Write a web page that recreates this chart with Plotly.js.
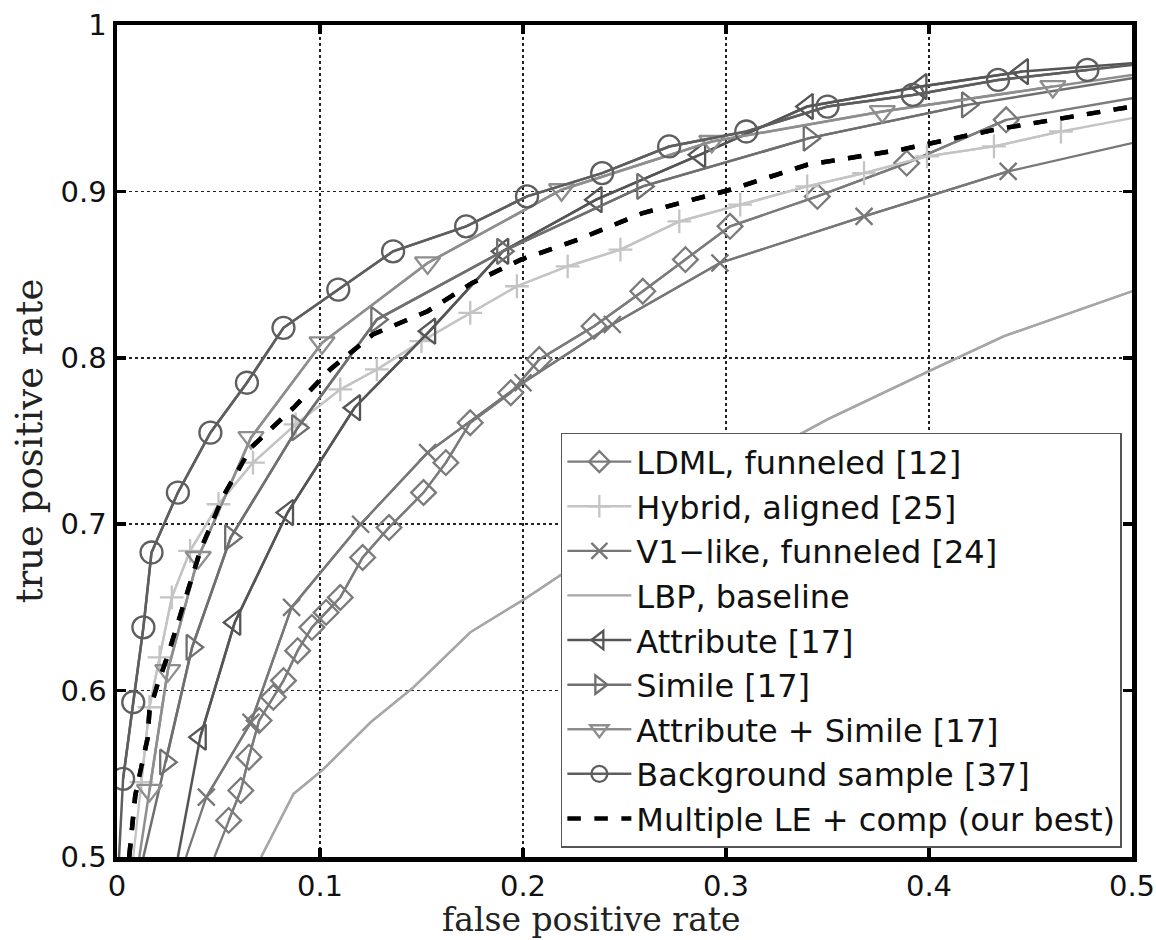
<!DOCTYPE html>
<html>
<head>
<meta charset="utf-8">
<script src="https://cdn.plot.ly/plotly-3.0.1.min.js"></script>
<style>html,body{margin:0;padding:0;background:#fff;}#chart{width:1156px;height:940px;}</style>
</head>
<body>
<div id="chart"></div>
<script>
// ---- data ----
var seriesNames = [
  "LDML, funneled [12]",
  "Hybrid, aligned [25]",
  "V1\u2212like, funneled [24]",
  "LBP, baseline",
  "Attribute [17]",
  "Simile [17]",
  "Attribute + Simile [17]",
  "Background sample [37]",
  "Multiple LE + comp (our best)"
];

var ldmlX = [0.048, 0.055, 0.061, 0.065, 0.070, 0.077, 0.082, 0.089, 0.096, 0.103, 0.110, 0.121, 0.134, 0.151, 0.162, 0.174, 0.194, 0.208, 0.235, 0.259, 0.280, 0.302, 0.345, 0.389, 0.438, 0.5];
var ldmlY = [0.500, 0.522, 0.540, 0.560, 0.582, 0.596, 0.606, 0.624, 0.638, 0.647, 0.656, 0.680, 0.698, 0.719, 0.737, 0.761, 0.779, 0.799, 0.819, 0.840, 0.859, 0.879, 0.897, 0.917, 0.943, 0.956];

var hybridX = [0.008, 0.012, 0.016, 0.021, 0.027, 0.036, 0.050, 0.067, 0.088, 0.110, 0.128, 0.150, 0.174, 0.197, 0.222, 0.248, 0.277, 0.307, 0.340, 0.368, 0.399, 0.432, 0.465, 0.5];
var hybridY = [0.500, 0.545, 0.590, 0.620, 0.656, 0.684, 0.712, 0.737, 0.760, 0.781, 0.793, 0.810, 0.827, 0.843, 0.855, 0.865, 0.882, 0.892, 0.903, 0.911, 0.921, 0.927, 0.936, 0.944];

var v1X = [0.034, 0.044, 0.066, 0.086, 0.120, 0.153, 0.200, 0.244, 0.297, 0.368, 0.439, 0.5];
var v1Y = [0.500, 0.536, 0.581, 0.650, 0.700, 0.743, 0.785, 0.820, 0.857, 0.885, 0.912, 0.929];

var lbpX = [0.071, 0.087, 0.101, 0.125, 0.146, 0.174, 0.202, 0.25, 0.30, 0.35, 0.40, 0.437, 0.5];
var lbpY = [0.500, 0.538, 0.552, 0.581, 0.602, 0.635, 0.656, 0.695, 0.730, 0.763, 0.792, 0.813, 0.840];

var attrX = [0.030, 0.041, 0.058, 0.084, 0.117, 0.154, 0.190, 0.236, 0.287, 0.340, 0.396, 0.446, 0.5];
var attrY = [0.500, 0.572, 0.641, 0.707, 0.770, 0.816, 0.864, 0.895, 0.922, 0.951, 0.963, 0.972, 0.977];

var simileX = [0.013, 0.024, 0.037, 0.056, 0.089, 0.128, 0.190, 0.259, 0.341, 0.419, 0.5];
var simileY = [0.500, 0.557, 0.626, 0.692, 0.758, 0.823, 0.864, 0.903, 0.932, 0.952, 0.968];

var attrSimX = [0.011, 0.016, 0.025, 0.040, 0.066, 0.101, 0.153, 0.219, 0.293, 0.377, 0.461, 0.5];
var attrSimY = [0.500, 0.540, 0.612, 0.680, 0.752, 0.809, 0.857, 0.901, 0.930, 0.948, 0.963, 0.970];

var bgX = [0.001, 0.003, 0.008, 0.013, 0.017, 0.030, 0.046, 0.064, 0.082, 0.109, 0.136, 0.172, 0.202, 0.239, 0.272, 0.310, 0.350, 0.392, 0.434, 0.478, 0.5];
var bgY = [0.500, 0.547, 0.593, 0.638, 0.683, 0.719, 0.755, 0.785, 0.818, 0.841, 0.864, 0.879, 0.897, 0.911, 0.927, 0.936, 0.951, 0.958, 0.967, 0.973, 0.976];

var mleX = [0.006, 0.009, 0.012, 0.015, 0.016, 0.020, 0.025, 0.030, 0.041, 0.052, 0.066, 0.087, 0.105, 0.126, 0.153, 0.175, 0.199, 0.227, 0.259, 0.302, 0.340, 0.386, 0.432, 0.5];
var mleY = [0.500, 0.537, 0.554, 0.571, 0.588, 0.604, 0.621, 0.640, 0.684, 0.716, 0.746, 0.770, 0.793, 0.814, 0.828, 0.845, 0.859, 0.871, 0.887, 0.901, 0.916, 0.925, 0.937, 0.951];

var xTickVals = [0, 0.1, 0.2, 0.3, 0.4, 0.5];
var xTickText = ["0", "0.1", "0.2", "0.3", "0.4", "0.5"];
var yTickVals = [0.5, 0.6, 0.7, 0.8, 0.9, 1];
var yTickText = ["0.5", "0.6", "0.7", "0.8", "0.9", "1"];

// ---- traces ----
var lineTraces = [];
var legendTraces = [];
function addSeries(name, x, y, color, symbol, size, width, dash) {
  // full curve (edge to edge), no legend entry
  lineTraces.push({
    type: "scatter", x: x, y: y, mode: "lines", showlegend: false,
    line: {color: color, width: width, dash: dash || "solid"}, hoverinfo: "skip"
  });
  // interior points carry the markers (the curves are clipped at the frame)
  var xi = [], yi = [];
  for (var i = 0; i < x.length; i++) {
    if (!symbol || (x[i] < 0.5 && y[i] > 0.5)) { xi.push(x[i]); yi.push(y[i]); }
  }
  var t = {
    type: "scatter", name: name, x: xi, y: yi,
    mode: symbol ? "lines+markers" : "lines",
    line: {color: color, width: width, dash: dash || "solid"}
  };
  if (symbol) t.marker = {symbol: symbol, size: size, color: color, line: {color: color, width: 2.3}};
  legendTraces.push(t);
}

addSeries(seriesNames[0], ldmlX, ldmlY, "#7b7b7b", "diamond-open", 19, 2.3);
addSeries(seriesNames[1], hybridX, hybridY, "#c4c4c4", "cross-thin-open", 17, 2.3);
addSeries(seriesNames[2], v1X, v1Y, "#777777", "x-thin-open", 17, 2.3);
addSeries(seriesNames[3], lbpX, lbpY, "#a6a6a6", null, 0, 2.3);
addSeries(seriesNames[4], attrX, attrY, "#555555", "triangle-left-open", 22, 2.5);
addSeries(seriesNames[5], simileX, simileY, "#6f6f6f", "triangle-right-open", 22, 2.5);
addSeries(seriesNames[6], attrSimX, attrSimY, "#8e8e8e", "triangle-down-open", 22, 2.5);
addSeries(seriesNames[7], bgX, bgY, "#5e5e5e", "circle-open", 22, 2.5);
addSeries(seriesNames[8], mleX, mleY, "#000000", null, 0, 4.5, "dash");

var data = lineTraces.concat(legendTraces);

var axisCommon = {
  showline: true, linecolor: "#000", linewidth: 4.5, mirror: "allticks",
  ticks: "inside", ticklen: 9, tickwidth: 3.5, tickcolor: "#000",
  showgrid: true, gridcolor: "#222", gridwidth: 1.5, griddash: "dot",
  zeroline: false,
  tickfont: {family: "DejaVu Sans, sans-serif", size: 29, color: "#111"}
};

var layout = {
  width: 1156, height: 940,
  margin: {l: 117, r: 24, t: 25, b: 83},
  paper_bgcolor: "#fff", plot_bgcolor: "#fff",
  showlegend: true,
  xaxis: Object.assign({}, axisCommon, {
    range: [0, 0.5], tickvals: xTickVals, ticktext: xTickText
  }),
  yaxis: Object.assign({}, axisCommon, {
    range: [0.5, 1], tickvals: yTickVals, ticktext: yTickText,
    title: {text: "true positive rate", standoff: 8, font: {family: "DejaVu Serif, serif", size: 37, color: "#222"}}
  }),
  annotations: [{
    text: "false positive rate", xref: "paper", yref: "paper",
    x: 0.467, y: -0.0998, xanchor: "center", yanchor: "bottom",
    showarrow: false, borderpad: 0,
    font: {family: "DejaVu Serif, serif", size: 33, color: "#222"}
  }],
  legend: {
    x: 0.990, xanchor: "right", y: 0.011, yanchor: "bottom",
    bgcolor: "#fff", bordercolor: "#555", borderwidth: 1.5,
    font: {family: "DejaVu Sans, sans-serif", size: 32, color: "#111"},
    itemwidth: 64, tracegroupgap: 0
  }
};

Plotly.newPlot("chart", data, layout, {displayModeBar: false, staticPlot: true});
</script>
</body>
</html>
